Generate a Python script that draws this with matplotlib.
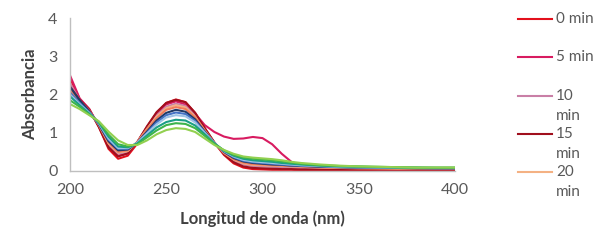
import matplotlib
matplotlib.use("Agg")
import matplotlib.pyplot as plt
from matplotlib.lines import Line2D

plt.rcParams['font.family'] = ['Lato', 'DejaVu Sans']

wavelength = [200,205,210,215,220,225,230,235,240,245,250,255,260,265,270,275,280,285,290,295,300,
              305,310,315,320,330,340,350,360,370,380,390,400]

labels = ["0 min","5 min","10 min","15 min","20 min","25 min","30 min","35 min","40 min","45 min","50 min","55 min"]
colors = ["#e3101c","#d81b60","#c97fa6","#a00f1d","#f4b183","#f07a5a",
          "#203864","#4472c4","#9dc3e6","#1a9e86","#3cb44b","#92d050"]

a0  = [2.42,1.88,1.62,1.15,0.58,0.32,0.40,0.72,1.15,1.52,1.78,1.87,1.80,1.52,1.12,0.74,0.42,0.20,0.09,0.05,0.04,
       0.03,0.03,0.03,0.02,0.02,0.02,0.02,0.02,0.02,0.02,0.02,0.02]
a5  = [2.50,1.90,1.62,1.18,0.65,0.40,0.46,0.76,1.15,1.50,1.74,1.82,1.74,1.50,1.20,1.02,0.90,0.84,0.85,0.89,0.86,
       0.70,0.45,0.24,0.14,0.10,0.09,0.08,0.07,0.07,0.06,0.06,0.06]
a10 = [2.30,1.85,1.58,1.20,0.70,0.45,0.50,0.75,1.10,1.45,1.68,1.76,1.70,1.45,1.08,0.74,0.46,0.27,0.17,0.13,0.12,
       0.11,0.10,0.09,0.08,0.07,0.06,0.06,0.05,0.05,0.05,0.05,0.05]
a15 = [2.20,1.86,1.60,1.15,0.62,0.38,0.46,0.76,1.17,1.54,1.78,1.86,1.80,1.52,1.12,0.75,0.44,0.23,0.12,0.08,0.07,
       0.06,0.05,0.05,0.04,0.04,0.04,0.04,0.04,0.04,0.04,0.04,0.04]
a20 = [2.15,1.83,1.57,1.20,0.72,0.48,0.52,0.76,1.10,1.42,1.64,1.72,1.66,1.42,1.06,0.73,0.47,0.30,0.20,0.16,0.15,
       0.14,0.13,0.12,0.11,0.09,0.08,0.07,0.07,0.06,0.06,0.06,0.06]
a25 = [2.10,1.82,1.56,1.22,0.75,0.50,0.54,0.76,1.08,1.38,1.60,1.67,1.62,1.40,1.05,0.73,0.48,0.31,0.22,0.18,0.17,
       0.15,0.14,0.13,0.12,0.10,0.09,0.08,0.07,0.07,0.06,0.06,0.06]
a30 = [2.20,1.85,1.56,1.22,0.78,0.54,0.56,0.74,1.03,1.32,1.52,1.60,1.55,1.35,1.03,0.73,0.50,0.34,0.25,0.21,0.19,
       0.17,0.16,0.14,0.13,0.11,0.10,0.09,0.08,0.08,0.07,0.07,0.07]
a35 = [2.05,1.78,1.53,1.24,0.82,0.58,0.58,0.74,1.00,1.27,1.46,1.53,1.49,1.31,1.01,0.73,0.51,0.36,0.27,0.23,0.21,
       0.19,0.17,0.15,0.14,0.12,0.10,0.09,0.09,0.08,0.08,0.07,0.07]
a40 = [2.00,1.75,1.52,1.25,0.85,0.60,0.60,0.74,0.98,1.22,1.40,1.46,1.43,1.27,1.00,0.73,0.52,0.38,0.29,0.25,0.23,
       0.21,0.19,0.17,0.15,0.13,0.11,0.10,0.09,0.09,0.08,0.08,0.08]
a45 = [1.95,1.72,1.50,1.27,0.90,0.64,0.62,0.72,0.93,1.14,1.28,1.34,1.32,1.19,0.96,0.72,0.53,0.40,0.32,0.28,0.26,
       0.24,0.21,0.19,0.17,0.14,0.12,0.11,0.10,0.09,0.09,0.08,0.08]
a50 = [1.85,1.68,1.48,1.28,0.95,0.70,0.64,0.70,0.88,1.06,1.20,1.25,1.23,1.12,0.92,0.71,0.54,0.42,0.35,0.32,0.30,
       0.28,0.25,0.22,0.19,0.15,0.13,0.12,0.11,0.10,0.09,0.09,0.09]
a55 = [1.75,1.62,1.46,1.30,1.03,0.80,0.68,0.68,0.80,0.96,1.07,1.12,1.10,1.02,0.85,0.68,0.55,0.45,0.38,0.35,0.33,
       0.31,0.28,0.24,0.21,0.17,0.14,0.12,0.11,0.10,0.09,0.09,0.09]

series = [a0,a5,a10,a15,a20,a25,a30,a35,a40,a45,a50,a55]

fig = plt.figure(figsize=(6.03, 2.49), dpi=100)
ax = fig.add_axes([70/603, 1-171/249, (455-70)/603, (171-18)/249])

for vals, c, lab in zip(series, colors, labels):
    ax.plot(wavelength, vals, color=c, lw=1.5, label=lab, solid_joinstyle='round')

ax.set_xlim(200, 400)
ax.set_ylim(0, 4)
ax.set_xticks([200,250,300,350,400])
ax.set_yticks([0,1,2,3,4])
for s in ['top','right']:
    ax.spines[s].set_visible(False)
for s in ['left','bottom']:
    ax.spines[s].set_color('#bfbfbf')
    ax.spines[s].set_linewidth(1.0)
ax.tick_params(axis='both', length=0, labelsize=11.5, colors='#595959')
ax.tick_params(axis='y', pad=9)
ax.tick_params(axis='x', pad=9)
ax.set_xlabel("Longitud de onda (nm)", fontsize=12, fontweight='bold', color='#404040', labelpad=9)
ax.set_ylabel("Absorbancia", fontsize=12, fontweight='bold', color='#404040', labelpad=7)

# Legend (only the first five entries are visible, as in the reference)
leg_labels = ["0 min", "5 min", "10\nmin", "15\nmin", "20\nmin"]
leg_y = [19, 57, 96, 134, 172]
for lab, c, yy in zip(leg_labels, colors[:5], leg_y):
    yf = 1 - yy/249
    fig.add_artist(Line2D([518/603, 552/603], [yf, yf], color=c, lw=1.5, transform=fig.transFigure))
    for k, part in enumerate(lab.split("\n")):
        fig.text(556/603, 1 - (yy + 20*k)/249, part, fontsize=11, color='#595959',
                 va='center', ha='left', transform=fig.transFigure)

fig.savefig("out.png", dpi=100)
